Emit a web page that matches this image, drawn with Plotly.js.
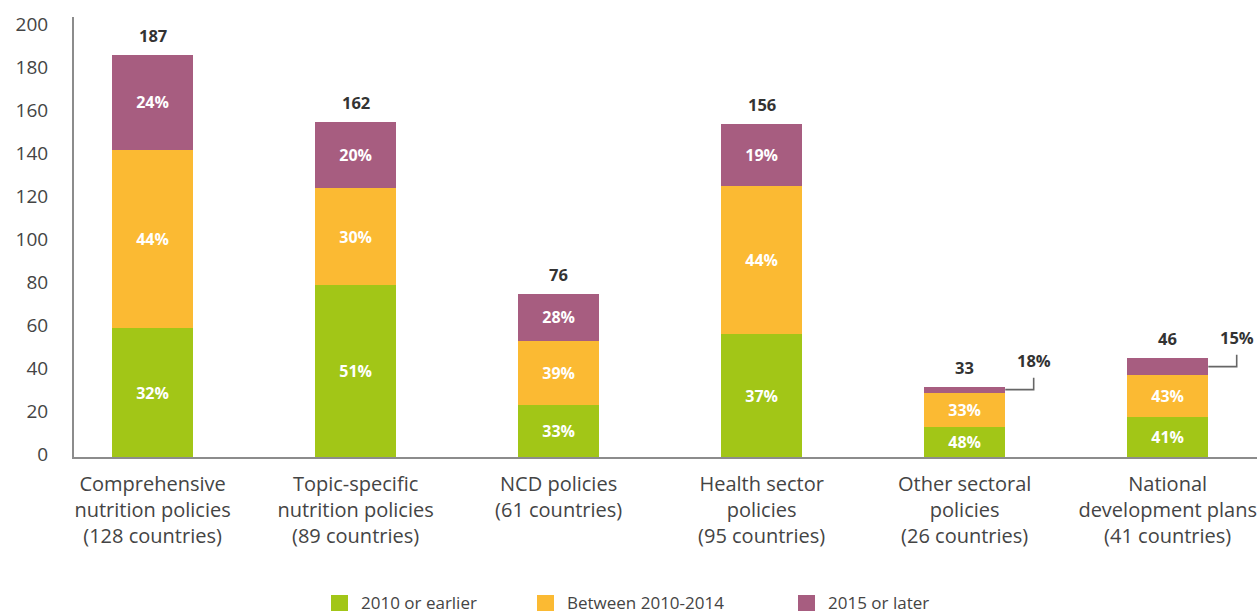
<!DOCTYPE html>
<html>
<head>
<meta charset="utf-8">
<script src="https://cdn.plot.ly/plotly-3.0.1.min.js"></script>
<style>html,body{margin:0;padding:0;background:#fff;}#chart{width:1257px;height:614px;}</style>
</head>
<body>
<div id="chart"></div>
<script>
// Data
const categories = [
  "Comprehensive<br>nutrition policies<br>(128 countries)",
  "Topic-specific<br>nutrition policies<br>(89 countries)",
  "NCD policies<br>(61 countries)",
  "Health sector<br>policies<br>(95 countries)",
  "Other sectoral<br>policies<br>(26 countries)",
  "National<br>development plans<br>(41 countries)"
];
const seriesNames = ["2010 or earlier", "Between 2010-2014", "2015 or later"];
const early = [60, 80, 24, 57, 14, 18.6];
const mid = [83, 45, 30, 69, 16, 19.5];
const late = [44, 31, 22, 29, 2.7, 7.9];
const earlyPct = ["32%", "51%", "33%", "37%", "48%", "41%"];
const midPct = ["44%", "30%", "39%", "44%", "33%", "43%"];
const latePct = ["24%", "20%", "28%", "19%", "18%", "15%"];
const totals = ["187", "162", "76", "156", "33", "46"];
const outsideLate = [false, false, false, false, true, true];

const colors = ["#A2C617", "#FBBA33", "#A75D80"];
const xIdx = categories.map((_, i) => i);
const barW = 0.4;
const font = "'Open Sans', 'DejaVu Sans', sans-serif";

// figure geometry (pixels) for paper-referenced legend
const W = 1257, H = 614, ML = 74, MR = 0, MT = 17, MB = 157;
const pw = W - ML - MR, ph = H - MT - MB;
const px = v => (v - ML) / pw;
const py = v => (H - MB - v) / ph;

function mk(name, y, txt, color) {
  return {
    type: "bar", name: name, x: xIdx, y: y, width: barW,
    marker: {color: color, line: {width: 0}},
    text: txt, textposition: "inside", insidetextanchor: "middle",
    textfont: {family: font, size: 16, color: "#ffffff", weight: 700},
    hoverinfo: "skip", cliponaxis: false, showlegend: false
  };
}
const traces = [
  mk(seriesNames[0], early, earlyPct, colors[0]),
  mk(seriesNames[1], mid, midPct, colors[1]),
  mk(seriesNames[2], late, latePct.map((t, i) => outsideLate[i] ? "" : t), colors[2])
];

const annotations = [];
const shapes = [];
xIdx.forEach(i => {
  const top = early[i] + mid[i] + late[i];
  annotations.push({
    x: i, y: top, xref: "x", yref: "y", text: "<b>" + totals[i] + "</b>",
    showarrow: false, yanchor: "bottom", yshift: 6,
    font: {family: font, size: 16.5, color: "#333333"}
  });
  if (outsideLate[i]) {
    const ym = early[i] + mid[i] + late[i] / 2;
    const xe = i + 0.34;
    shapes.push({
      type: "path", xref: "x", yref: "y",
      path: `M${i + barW / 2},${ym} L${xe},${ym} L${xe},${ym + 5.5}`,
      line: {color: "#666666", width: 1.6}
    });
    annotations.push({
      x: xe, y: ym + 5.5, xref: "x", yref: "y", text: "<b>" + latePct[i] + "</b>",
      showarrow: false, yanchor: "bottom", yshift: 4,
      font: {family: font, size: 16.5, color: "#333333"}
    });
  }
});

// legend (swatch + label)
const legSwatchX = [331, 537, 798];
seriesNames.forEach((n, k) => {
  const x0 = legSwatchX[k];
  shapes.push({
    type: "rect", xref: "paper", yref: "paper",
    x0: px(x0), x1: px(x0 + 17), y0: py(611), y1: py(595),
    fillcolor: colors[k], line: {width: 0}, layer: "above"
  });
  annotations.push({
    xref: "paper", yref: "paper", x: px(x0 + 28), y: py(602.5),
    xanchor: "left", yanchor: "middle", showarrow: false, text: n,
    font: {family: font, size: 17, color: "#444444"}
  });
});

const layout = {
  width: W, height: H,
  margin: {l: ML, r: MR, t: MT, b: MB, pad: 0},
  paper_bgcolor: "#ffffff", plot_bgcolor: "#ffffff",
  barmode: "stack",
  showlegend: false,
  xaxis: {
    range: [-0.387, 5.44], tickvals: xIdx, ticktext: categories,
    showline: true, linecolor: "#8c8c8c", linewidth: 2,
    ticks: "", showgrid: false, zeroline: false, fixedrange: true,
    ticklabelstandoff: 8,
    tickfont: {family: font, size: 20, color: "#444444"}
  },
  yaxis: {
    range: [0, 204.65], dtick: 20, tick0: 0,
    showline: true, linecolor: "#8c8c8c", linewidth: 2,
    ticks: "", showgrid: false, zeroline: false, fixedrange: true,
    ticklabelstandoff: 20, ticklabelshift: -3,
    tickfont: {family: font, size: 19, color: "#444444"}
  },
  annotations: annotations,
  shapes: shapes
};

Plotly.newPlot("chart", traces, layout, {displayModeBar: false, staticPlot: true});
</script>
</body>
</html>
